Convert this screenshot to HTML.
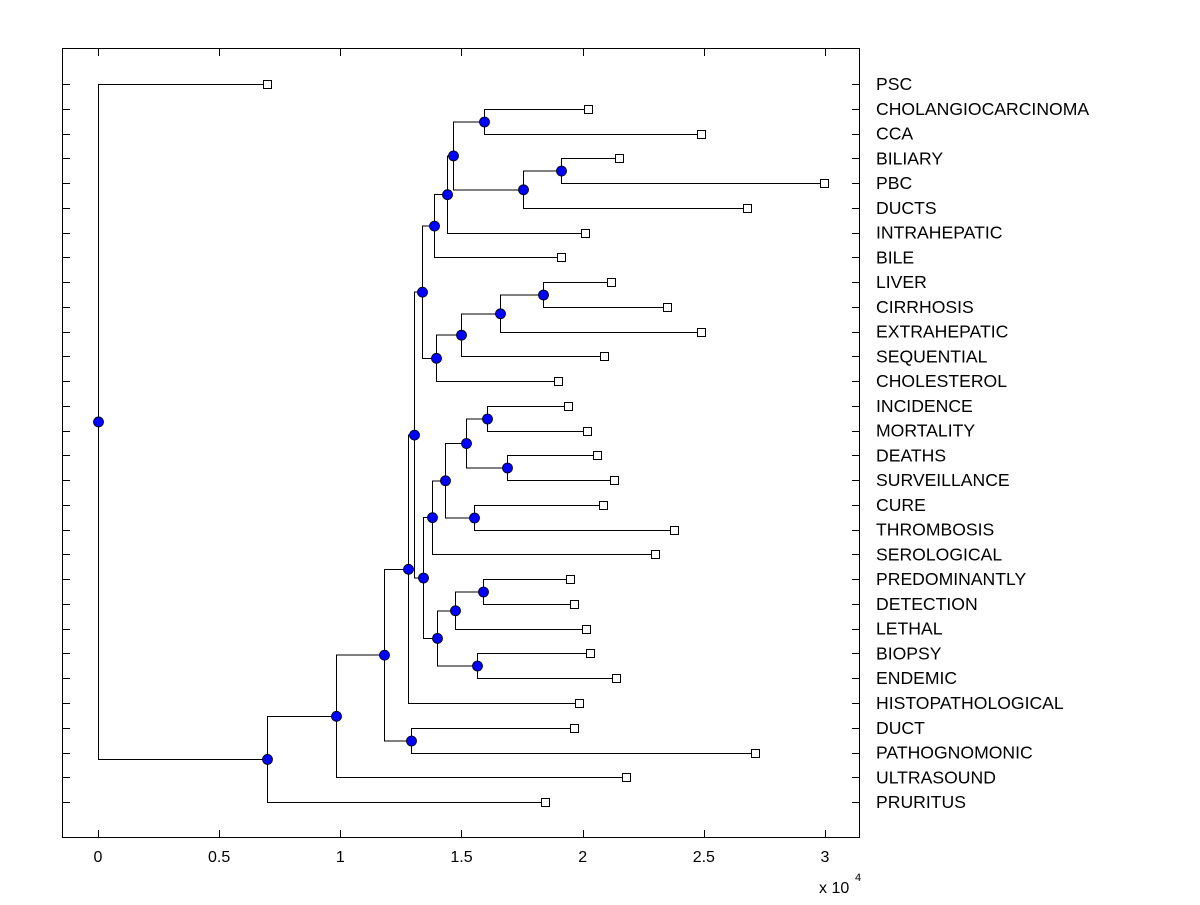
<!DOCTYPE html>
<html><head><meta charset="utf-8"><style>
body{margin:0;background:#fff}
svg text{font-family:"Liberation Sans",Arial,sans-serif;fill:#000}
</style></head><body>
<svg id="chart" width="1200" height="900" xmlns="http://www.w3.org/2000/svg">
<rect x="62.5" y="48.5" width="797" height="789" fill="none" stroke="#000" stroke-width="1" shape-rendering="crispEdges"/>
<g id="ticks" shape-rendering="crispEdges"></g>
<g id="links" shape-rendering="crispEdges"></g>
<g id="marks"></g>
<g id="labels"></g>
<text x="819" y="893" font-size="16">x 10</text>
<text x="855" y="881" font-size="11">4</text>
</svg>
<script>
const leafNames=["PSC","CHOLANGIOCARCINOMA","CCA","BILIARY","PBC","DUCTS","INTRAHEPATIC","BILE","LIVER","CIRRHOSIS","EXTRAHEPATIC","SEQUENTIAL","CHOLESTEROL","INCIDENCE","MORTALITY","DEATHS","SURVEILLANCE","CURE","THROMBOSIS","SEROLOGICAL","PREDOMINANTLY","DETECTION","LETHAL","BIOPSY","ENDEMIC","HISTOPATHOLOGICAL","DUCT","PATHOGNOMONIC","ULTRASOUND","PRURITUS"];
const leafValues=[0.698,2.02,2.49,2.15,2.995,2.68,2.01,1.91,2.115,2.35,2.49,2.09,1.897,1.94,2.017,2.06,2.128,2.083,2.376,2.298,1.946,1.963,2.012,2.029,2.136,1.983,1.963,2.71,2.178,1.843];
// internal nodes: id, merge value, child A, child B
const nodeIds=["l","j","k","i","h","f","o","n","m","g","top","u","v","s","t","r","p","y","w","x","q","mid","e","d","duct","c","b","a","root"];
const nodeValues=[1.909,1.591,1.752,1.467,1.442,1.388,1.835,1.657,1.5,1.393,1.339,1.607,1.686,1.517,1.55,1.43,1.38,1.587,1.475,1.562,1.397,1.343,1.306,1.281,1.29,1.182,0.983,0.698,0];
const nodeChildA=["BILIARY","CHOLANGIOCARCINOMA","l","j","i","h","LIVER","o","n","m","f","INCIDENCE","DEATHS","u","CURE","s","r","PREDOMINANTLY","y","BIOPSY","w","p","top","e","DUCT","d","c","b","PSC"];
const nodeChildB=["PBC","CCA","DUCTS","k","INTRAHEPATIC","BILE","CIRRHOSIS","EXTRAHEPATIC","SEQUENTIAL","CHOLESTEROL","g","MORTALITY","SURVEILLANCE","v","THROMBOSIS","t","SEROLOGICAL","DETECTION","LETHAL","ENDEMIC","x","q","mid","HISTOPATHOLOGICAL","PATHOGNOMONIC","duct","ULTRASOUND","PRURITUS","a"];
const xTicks=[0,0.5,1,1.5,2,2.5,3];
const xTickLabels=["0","0.5","1","1.5","2","2.5","3"];

const NS="http://www.w3.org/2000/svg";
const X=v=>98+v*242.33;
const Y=i=>84+i*24.76;
function mk(tag,attrs,parent){const e=document.createElementNS(NS,tag);for(const k in attrs)e.setAttribute(k,attrs[k]);parent.appendChild(e);return e;}
const ticks=document.getElementById('ticks'),links=document.getElementById('links'),marks=document.getElementById('marks'),labels=document.getElementById('labels');

xTicks.forEach((t,i)=>{
  const x=Math.round(X(t))+0.5;
  let a=mk('line',{x1:x,x2:x,y1:837,y2:830,stroke:'#000'},ticks);
  
  
  let b=mk('line',{x1:x,x2:x,y1:49,y2:56,stroke:'#000'},ticks);
  
  
  let tx=mk('text',{x:X(t),y:862,'font-size':16,'text-anchor':'middle'},ticks);tx.textContent=xTickLabels[i];
  
  
});
leafNames.forEach((n,i)=>{
  const y=Math.round(Y(i))+0.5;
  let a=mk('line',{x1:63,x2:70,y1:y,y2:y,stroke:'#000'},ticks);
  
  
  let b=mk('line',{x1:852,x2:859,y1:y,y2:y,stroke:'#000'},ticks);
  
  
  let t=mk('text',{x:876,y:Y(i)+6,'font-size':17.6},labels);t.textContent=n;
  
  
});

const pos={};
leafNames.forEach((n,i)=>{pos[n]={x:Math.round(X(leafValues[i]))+0.5,y:Math.round(Y(i))+0.5,leaf:true};});
nodeIds.forEach((id,k)=>{
  const a=pos[nodeChildA[k]],b=pos[nodeChildB[k]];
  const x=Math.round(X(nodeValues[k]))+0.5,y=(a.y+b.y)/2;
  pos[id]={x,y,leaf:false};
  const p=mk('path',{d:`M${a.x},${a.y}H${x}V${b.y}H${b.x}`,fill:'none',stroke:'#000','stroke-width':1},links);
  
  
});
leafNames.forEach(n=>{
  const p=pos[n];
  const r=mk('rect',{x:p.x-4,y:p.y-4,width:8,height:8,fill:'#fff',stroke:'#000'},marks);
  
  
});
nodeIds.forEach(id=>{
  const p=pos[id];
  const c=mk('circle',{cx:p.x,cy:p.y,r:5,fill:'#0000ff',stroke:'#000','stroke-width':0.8},marks);
  
  
});
</script>
</body></html>
